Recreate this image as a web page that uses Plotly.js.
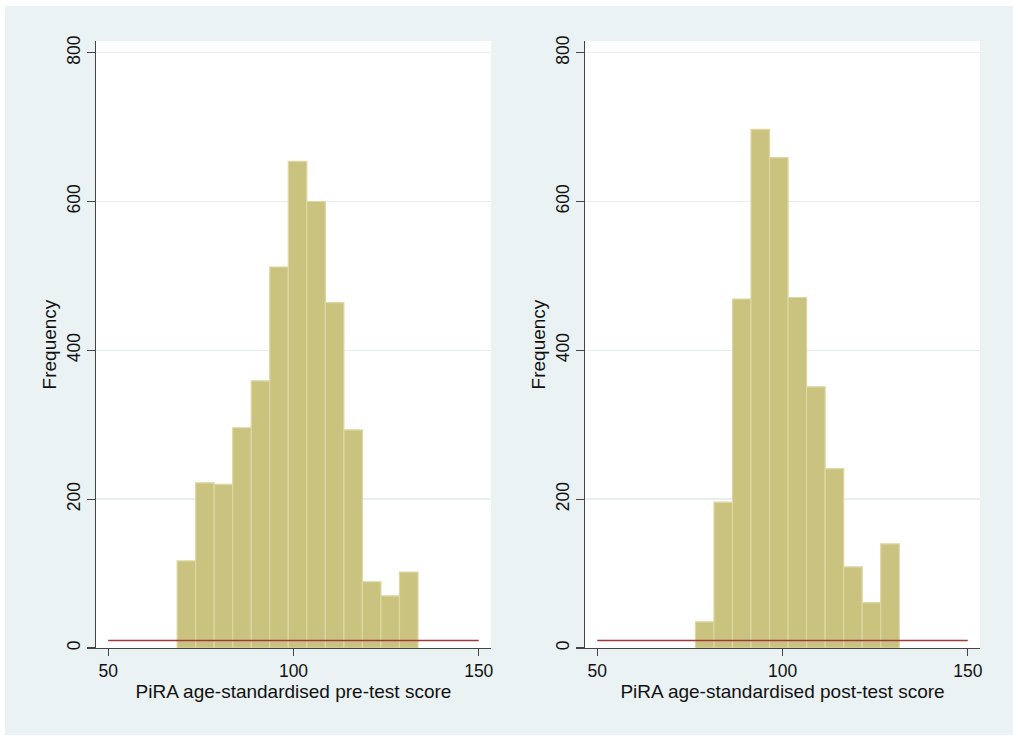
<!DOCTYPE html>
<html>
<head>
<meta charset="utf-8">
<script src="https://cdn.plot.ly/plotly-3.0.1.min.js"></script>
<style>
  html, body { margin: 0; padding: 0; background: #ffffff; width: 1013px; height: 738px; overflow: hidden; }
  #chart { position: absolute; left: 5px; top: 6px; width: 1008px; height: 729px; }
</style>
</head>
<body>
<div id="chart"></div>
<script>
// ---- data ----
var binWidth = 5;
var preBinStart = 68.6;
var preFreq = [117, 222, 220, 296, 359, 512, 654, 600, 464, 293, 89, 70, 102];
var postBinStart = 76.5;
var postFreq = [35, 196, 469, 697, 659, 471, 351, 241, 109, 61, 140];
var refLineX = [50, 150];
var refLineY = [10, 10];
var xTickVals = [50, 100, 150];
var yTickVals = [0, 200, 400, 600, 800];
var yTitle = "Frequency";
var preTitle = "PiRA age-standardised pre-test score";
var postTitle = "PiRA age-standardised post-test score";

function centers(start, n) {
  var c = [];
  for (var i = 0; i < n; i++) c.push(start + binWidth * (i + 0.5));
  return c;
}

var barColor = "#c9c37f";
var barLine = "#dcd7a3";
var redColor = "#a23a3c";

var traces = [
  { type: "bar", x: centers(preBinStart, preFreq.length), y: preFreq, width: binWidth,
    marker: { color: barColor, line: { color: barLine, width: 1.2 } },
    xaxis: "x", yaxis: "y", hoverinfo: "skip" },
  { type: "scatter", mode: "lines", x: refLineX, y: refLineY,
    line: { color: redColor, width: 1.6 }, xaxis: "x", yaxis: "y", hoverinfo: "skip" },
  { type: "bar", x: centers(postBinStart, postFreq.length), y: postFreq, width: binWidth,
    marker: { color: barColor, line: { color: barLine, width: 1.2 } },
    xaxis: "x2", yaxis: "y2", hoverinfo: "skip" },
  { type: "scatter", mode: "lines", x: refLineX, y: refLineY,
    line: { color: redColor, width: 1.6 }, xaxis: "x2", yaxis: "y2", hoverinfo: "skip" }
];

var fontFam = "Liberation Sans, Arial, sans-serif";
function xAxis(domain, title, anchor) {
  return {
    domain: domain, anchor: anchor, range: [46.7, 153.3],
    tickmode: "array", tickvals: xTickVals,
    ticks: "outside", ticklen: 7, tickwidth: 1.3, tickcolor: "#444",
    showline: true, linecolor: "#444", linewidth: 1.3,
    showgrid: false, zeroline: false,
    tickfont: { family: fontFam, size: 17.5, color: "#111" },
    title: { text: title, font: { family: fontFam, size: 19, color: "#111" }, standoff: 1 },
    automargin: false, fixedrange: true
  };
}
function yAxis(anchor) {
  return {
    domain: [0, 1], anchor: anchor, range: [0, 815.7],
    tickmode: "array", tickvals: yTickVals, tickangle: -90,
    ticks: "outside", ticklen: 8, tickwidth: 1.3, tickcolor: "#444",
    showline: true, linecolor: "#444", linewidth: 1.3,
    showgrid: true, gridcolor: "#e8eff1", gridwidth: 1.5,
    zeroline: false,
    tickfont: { family: fontFam, size: 17.5, color: "#111" },
    title: { text: yTitle, font: { family: fontFam, size: 19, color: "#111" }, standoff: 2 },
    automargin: false, fixedrange: true
  };
}

var layout = {
  width: 1008, height: 729,
  paper_bgcolor: "#eaf2f3", plot_bgcolor: "#ffffff",
  margin: { l: 91, r: 33, t: 35, b: 86.5 },
  showlegend: false, barmode: "overlay", bargap: 0,
  xaxis: xAxis([0, 0.4468], preTitle, "y"),
  yaxis: yAxis("x"),
  xaxis2: xAxis([0.5532, 1], postTitle, "y2"),
  yaxis2: yAxis("x2")
};

Plotly.newPlot("chart", traces, layout, { displayModeBar: false, staticPlot: true });
</script>
</body>
</html>
